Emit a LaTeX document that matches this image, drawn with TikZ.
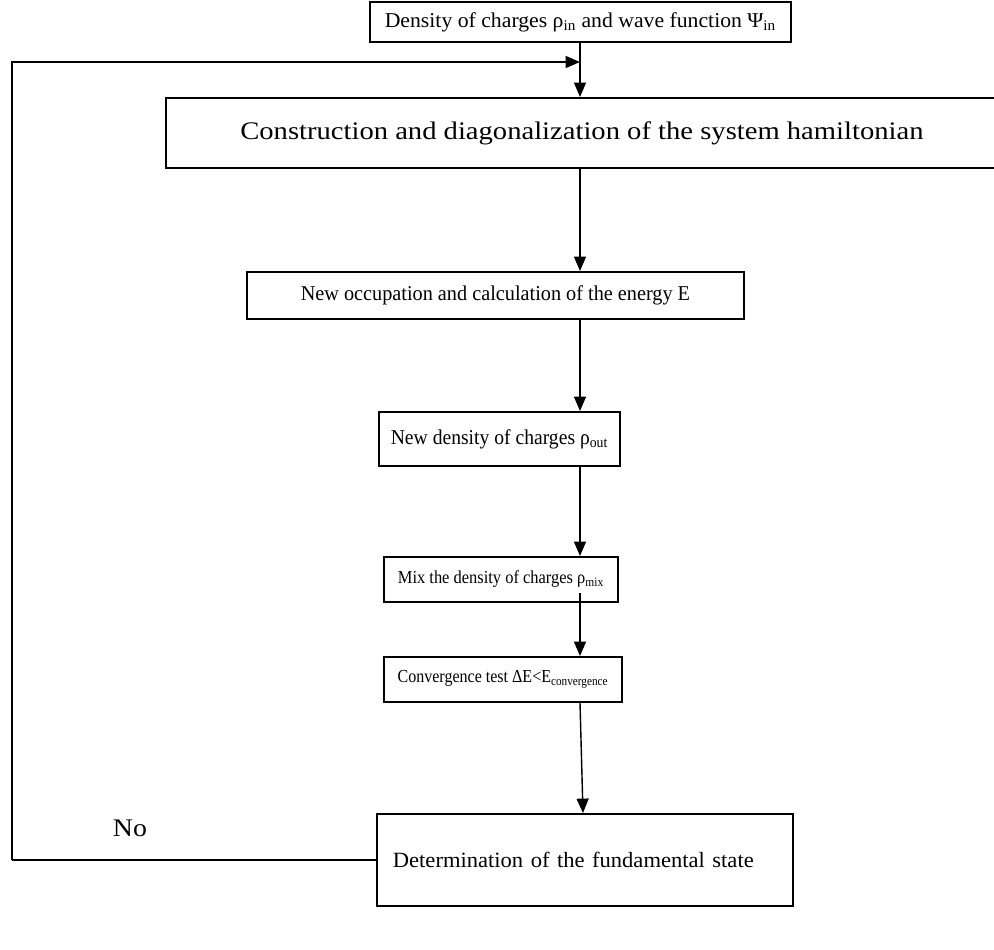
\documentclass[tikz,border=0pt]{standalone}
\usepackage{fontspec}
\usepackage{graphicx}
\setmainfont{Liberation Serif}
\usetikzlibrary{arrows.meta}
\newcommand{\sbx}[1]{\textsubscript{#1}}
\newcommand{\sx}[2]{\scalebox{#1}[1]{#2}}
\newcommand{\fsz}[1]{\fontsize{#1}{#1}\selectfont}
\tikzset{
  flowbox/.style={draw, line width=1.3pt, inner sep=0pt, anchor=north west, font=\fsz{15}},
  flowarrow/.style={line width=1pt, -{Triangle[length=0.36cm,width=0.3cm]}},
  flowline/.style={line width=1pt}
}
\begin{document}
\begin{tikzpicture}[x=0.025cm,y=-0.025cm]
\useasboundingbox (0,0) rectangle (994,949);
\node[flowbox, minimum width=421*0.025cm, minimum height=40*0.025cm] (b1) at (369,1)
  {\sx{1.03}{Density of charges ρ\sbx{in} and wave function Ψ\sbx{in}}};
\node[flowbox, font=\fsz{18}, minimum width=832*0.025cm, minimum height=70*0.025cm] (b2) at (165,97)
  {\sx{1.13}{Construction and diagonalization of the system hamiltonian}};
\node[flowbox, minimum width=497*0.025cm, minimum height=47*0.025cm] (b3) at (246,271)
  {\sx{0.96}{New occupation and calculation of the energy E}};
\node[flowbox, minimum width=241*0.025cm, minimum height=54*0.025cm] (b4) at (378,411)
  {\sx{0.93}{New density of charges ρ\sbx{out}}};
\node[flowbox, font=\fsz{13}, minimum width=234*0.025cm, minimum height=45*0.025cm] (b5) at (383,556)
  {\sx{0.9}{Mix the density of charges ρ\sbx{mix}}};
\node[flowbox, font=\fsz{13}, minimum width=238*0.025cm, minimum height=45*0.025cm] (b6) at (383,656)
  {\sx{0.877}{Convergence test ΔE<E\sbx{convergence}}};
\node[flowbox, font=\fsz{15.5}, inner xsep=16*0.025cm, text width=384*0.025cm, align=left,
  minimum height=92*0.025cm] (b7) at (376,813)
  {\sx{1.035}{Determination of the fundamental state}};
\node[font=\fsz{18}] (no) at (130,828) {\sx{1.1}{No}};

\coordinate (j) at (580,62);
\coordinate (lc) at (12,62);
\coordinate (bc) at (12,860);

\draw[flowarrow] (b1.south -| j) -- (b2.north -| j);
\draw[flowarrow] (bc) -- (lc) -- (j);
\draw[flowline] (b7.west |- bc) -- (bc);
\draw[flowarrow] (b2.south -| j) -- (b3.north -| j);
\draw[flowarrow] (b3.south -| j) -- (b4.north -| j);
\draw[flowarrow] (b4.south -| j) -- (b5.north -| j);
\coordinate (m5) at (580,593);
\draw[flowarrow] (m5) -- (b6.north -| j);
\coordinate (e7) at (583,813);
\draw[flowarrow] (b6.south -| j) -- (e7);
\end{tikzpicture}
\end{document}
